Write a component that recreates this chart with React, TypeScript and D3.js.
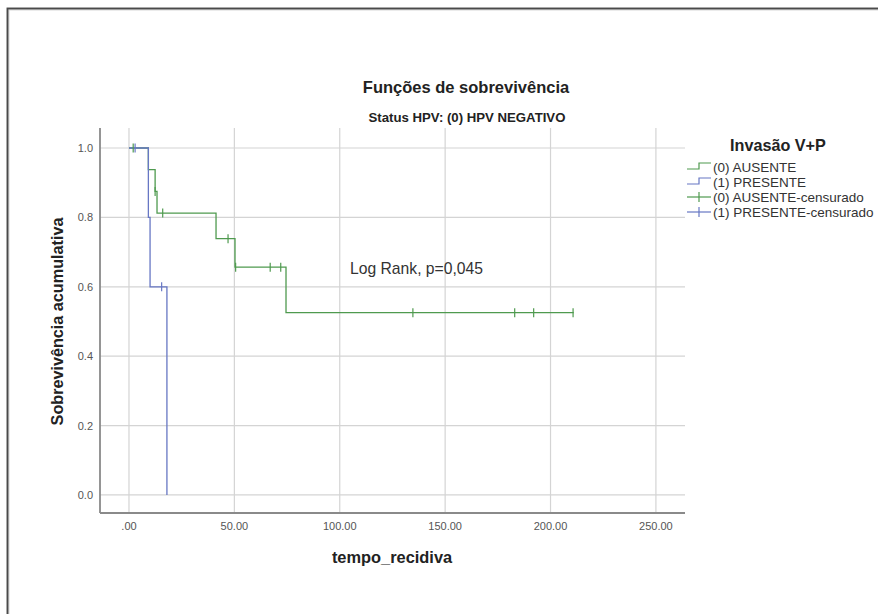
import React from "react";
import * as d3 from "d3";

// Kaplan-Meier estimates per group: step times and survival after each step
const ausenteTimes = [0, 9.2, 12.4, 13.3, 41.3, 50.3, 74.5, 211];
const ausenteSurv = [1.0, 0.9375, 0.875, 0.8125, 0.7386, 0.6566, 0.5253, 0.5253];
const ausenteCensorTimes = [2.0, 12.4, 16.0, 47.0, 50.6, 67.0, 72.0, 134.7, 183.0, 192.0, 210.7];

const presenteTimes = [0, 9.2, 10.0, 18.0];
const presenteSurv = [1.0, 0.8, 0.6, 0.0];
const presenteCensorTimes = [2.9, 15.5];

const xTicks = [0, 50, 100, 150, 200, 250];
const yTicks = [0, 0.2, 0.4, 0.6, 0.8, 1.0];

const legendLabels = [
  "(0) AUSENTE",
  "(1) PRESENTE",
  "(0) AUSENTE-censurado",
  "(1) PRESENTE-censurado",
];

const GREEN = "#4f9a4f";
const BLUE = "#6777c4";
const FONT = "'Liberation Sans', Arial, sans-serif";

const W = 878;
const H = 614;
const plot = { left: 100, right: 685, top: 128, bottom: 513 };

export default function App() {
  const x = d3.scaleLinear().domain([-13.75, 263.8]).range([plot.left, plot.right]);
  const y = d3.scaleLinear().domain([-0.052, 1.0577]).range([plot.bottom, plot.top]);

  const stepLine = d3
    .line<[number, number]>()
    .x((d) => x(d[0]))
    .y((d) => y(d[1]))
    .curve(d3.curveStepAfter);

  // Survival value in effect at time t (right-continuous step function)
  const survAt = (times: number[], surv: number[], t: number) => {
    let s = surv[0];
    for (let i = 0; i < times.length; i++) if (times[i] <= t) s = surv[i];
    return s;
  };

  const ausentePts = ausenteTimes.map((t, i) => [t, ausenteSurv[i]] as [number, number]);
  const presentePts = presenteTimes.map((t, i) => [t, presenteSurv[i]] as [number, number]);

  const censorMark = (t: number, s: number, color: string, key: string) => (
    <g key={key} stroke={color} strokeWidth={1.2}>
      <line x1={x(t)} x2={x(t)} y1={y(s) - 4.5} y2={y(s) + 4.5} />
    </g>
  );

  const legendX = 687;
  const legendRows = [167, 182, 197, 212];

  return (
    <svg
      width={W}
      height={H}
      style={{ position: "absolute", left: 0, top: 0, background: "#fff" }}
      fontFamily={FONT}
    >
      <rect x={0} y={0} width={W} height={H} fill="#fff" />
      {/* outer frame */}
      <rect x={8} y={9} width={W + 20} height={H + 20} fill="none" stroke="#d8d8d8" strokeWidth={3} />
      <rect x={7.5} y={8.5} width={W + 20} height={H + 20} fill="none" stroke="#4a4a4a" strokeWidth={1.8} />

      {/* titles */}
      <text x={466} y={93} textAnchor="middle" fontSize={16.5} fontWeight="bold" fill="#222">
        Funções de sobrevivência
      </text>
      <text x={467} y={121.5} textAnchor="middle" fontSize={13.2} fontWeight="bold" fill="#222">
        Status HPV: (0) HPV NEGATIVO
      </text>

      {/* grid */}
      <g stroke="#d4d4d4" strokeWidth={1.2}>
        {yTicks.map((v) => (
          <line key={"gy" + v} x1={plot.left} x2={plot.right} y1={y(v)} y2={y(v)} />
        ))}
        {xTicks.map((v) => (
          <line key={"gx" + v} x1={x(v)} x2={x(v)} y1={plot.top} y2={plot.bottom} />
        ))}
      </g>

      {/* axes */}
      <g stroke="#8a8a8a" strokeWidth={1.8}>
        <line x1={plot.left} x2={plot.left} y1={plot.top} y2={plot.bottom} />
        <line x1={plot.left} x2={plot.right} y1={plot.bottom} y2={plot.bottom} />
      </g>

      {/* tick labels */}
      <g fontSize={11} fill="#555">
        {yTicks.map((v) => (
          <text key={"ty" + v} x={93} y={y(v) + 4} textAnchor="end">
            {v.toFixed(1)}
          </text>
        ))}
        {xTicks.map((v) => (
          <text key={"tx" + v} x={x(v)} y={530} textAnchor="middle">
            {v === 0 ? ".00" : v.toFixed(2)}
          </text>
        ))}
      </g>

      {/* axis titles */}
      <text
        transform={`translate(63,${(y(0) + y(1)) / 2}) rotate(-90)`}
        textAnchor="middle"
        fontSize={16.2}
        fontWeight="bold"
        fill="#222"
      >
        Sobrevivência acumulativa
      </text>
      <text x={392} y={563} textAnchor="middle" fontSize={16.4} fontWeight="bold" fill="#222">
        tempo_recidiva
      </text>

      {/* survival curves */}
      <path d={stepLine(ausentePts) ?? ""} fill="none" stroke={GREEN} strokeWidth={1.3} />
      <path d={stepLine(presentePts) ?? ""} fill="none" stroke={BLUE} strokeWidth={1.3} />
      {ausenteCensorTimes.map((t, i) =>
        censorMark(t, survAt(ausenteTimes, ausenteSurv, t), GREEN, "ca" + i)
      )}
      {presenteCensorTimes.map((t, i) =>
        censorMark(t, survAt(presenteTimes, presenteSurv, t), BLUE, "cp" + i)
      )}

      {/* annotation */}
      <text x={350} y={274} fontSize={15.7} fill="#333">
        Log Rank, p=0,045
      </text>

      {/* legend */}
      <text x={730} y={151} fontSize={16.2} fontWeight="bold" fill="#222">
        Invasão V+P
      </text>
      {legendLabels.map((label, i) => {
        const cy = legendRows[i];
        const color = i % 2 === 0 ? GREEN : BLUE;
        const isStep = i < 2;
        return (
          <g key={label}>
            {isStep ? (
              <path
                d={`M${legendX},${cy + 2} H${legendX + 12} V${cy - 4} H${legendX + 24}`}
                fill="none"
                stroke={color}
                strokeWidth={1.2}
              />
            ) : (
              <g stroke={color} strokeWidth={1.2}>
                <line x1={legendX} x2={legendX + 24} y1={cy} y2={cy} />
                <line x1={legendX + 12} x2={legendX + 12} y1={cy - 5} y2={cy + 5} />
              </g>
            )}
            <text x={713} y={cy + 4.8} fontSize={13.5} fill="#333">
              {label}
            </text>
          </g>
        );
      })}
    </svg>
  );
}
